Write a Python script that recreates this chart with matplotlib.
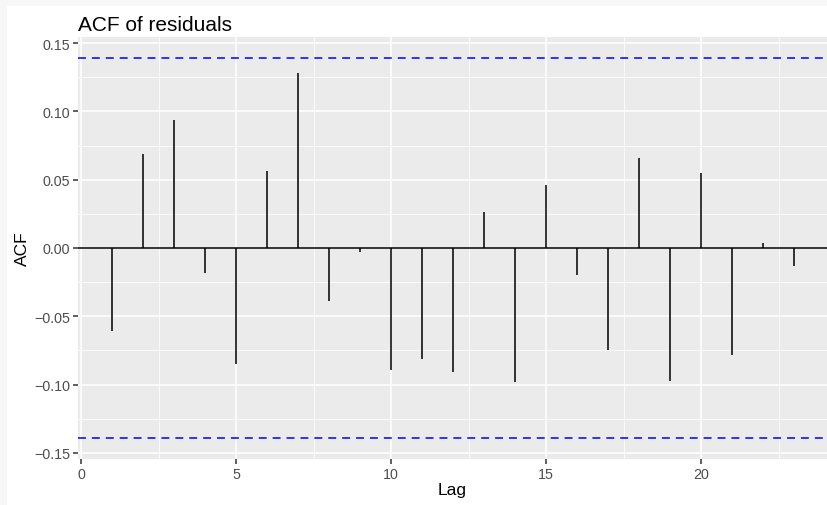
import numpy as np
import matplotlib
matplotlib.use("Agg")
import matplotlib.pyplot as plt
from matplotlib.patches import Rectangle

lags = np.arange(1, 24)
acf = [-0.061, 0.069, 0.094, -0.018, -0.085, 0.056, 0.128, -0.039, -0.003,
       -0.089, -0.081, -0.091, 0.026, -0.098, 0.046, -0.020, -0.075, 0.066,
       -0.097, 0.055, -0.078, 0.004, -0.013]
conf = 0.139

plt.rcParams['font.family'] = ['Liberation Sans', 'DejaVu Sans']

fig = plt.figure(figsize=(8.27, 5.06), dpi=100)
fig.patch.set_facecolor('white')
# light page strips on the left and top
fig.patches.append(Rectangle((0, 0), 7/827, 1, transform=fig.transFigure,
                             facecolor='#f7f7f7', edgecolor='none', zorder=0))
fig.patches.append(Rectangle((0, 1 - 7/506), 1, 7/506, transform=fig.transFigure,
                             facecolor='#f7f7f7', edgecolor='none', zorder=0))

ax = fig.add_axes([78/827, (506-460)/506, (827-78)/827, (460-38)/506])
ax.set_facecolor('#EBEBEB')
for s in ax.spines.values():
    s.set_visible(False)

ax.set_xlim(-0.1, 24.06)
ax.set_ylim(-0.1544, 0.1544)

xt = [0, 5, 10, 15, 20]
yt = [-0.15, -0.10, -0.05, 0.00, 0.05, 0.10, 0.15]
for x in [2.5, 7.5, 12.5, 17.5, 22.5]:
    ax.axvline(x, color='white', lw=0.55, zorder=0.5)
for y in [-0.125, -0.075, -0.025, 0.025, 0.075, 0.125]:
    ax.axhline(y, color='white', lw=0.55, zorder=0.5)
for x in xt:
    ax.axvline(x, color='white', lw=1.1, zorder=0.6)
for y in yt:
    ax.axhline(y, color='white', lw=1.1, zorder=0.6)

ax.axhline(0, color='black', lw=1.1, zorder=2)
ax.vlines(lags, 0, acf, color='black', lw=1.1, zorder=3)
for c in (conf, -conf):
    ax.axhline(c, color='#0000FF', lw=1.1, dashes=(5.2, 3.9), zorder=2)

ax.set_xticks(xt)
ax.set_xticklabels([str(x) for x in xt])
ax.set_yticks(yt)
ax.set_yticklabels(['\u22120.15', '\u22120.10', '\u22120.05', '0.00', '0.05', '0.10', '0.15'])
ax.tick_params(axis='both', colors='#333333', length=3.5, width=1.1,
               labelsize=10.3, labelcolor='#4D4D4D', pad=2)

ax.set_xlabel('Lag', fontsize=12.5, color='black', labelpad=1)
ax.set_ylabel('ACF', fontsize=12.5, color='black', labelpad=3)
ax.set_title('ACF of residuals', fontsize=15, loc='left', color='black', pad=5)

fig.savefig('out.png', dpi=100)
